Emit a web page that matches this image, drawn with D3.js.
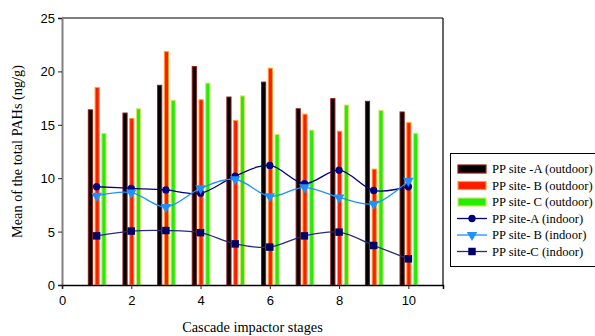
<!DOCTYPE html>
<html>
<head>
  <meta charset="utf-8">
  <style>
    html, body {
      margin: 0;
      padding: 0;
      background: #fff;
      width: 595px;
      height: 336px;
      overflow: hidden;
    }
    svg { display: block; }
    .tick-label { font-family: "Liberation Sans", Arial, sans-serif; font-size: 13px; fill: #000; }
    .title { font-family: "Liberation Serif", "Times New Roman", serif; font-size: 14.3px; fill: #000; }
    .legend text { font-family: "Liberation Serif", "Times New Roman", serif; font-size: 12.6px; fill: #000; }
  </style>
</head>
<body>
  <svg width="595" height="336"></svg>

  <script src="https://d3js.org/d3.v7.min.js"></script>
  <script>
    // data
    const stages = [1, 2, 3, 4, 5, 6, 7, 8, 9, 10];
    const outdoorA = [16.4, 16.1, 18.7, 20.45, 17.6, 19.0, 16.5, 17.45, 17.2, 16.2];
    const outdoorB = [18.5, 15.6, 21.85, 17.35, 15.4, 20.3, 16.0, 14.4, 10.85, 15.2];
    const outdoorC = [14.2, 16.5, 17.3, 18.9, 17.7, 14.1, 14.5, 16.85, 16.35, 14.2];
    const indoorA = [9.2, 9.05, 8.9, 8.6, 10.2, 11.2, 9.5, 10.75, 8.85, 9.2];
    const indoorB = [8.35, 8.65, 7.3, 9.05, 9.9, 8.3, 9.15, 8.2, 7.6, 9.75];
    const indoorC = [4.6, 5.05, 5.1, 4.9, 3.85, 3.55, 4.6, 4.95, 3.7, 2.45];
    const xTicks = [0, 2, 4, 6, 8, 10];
    const yTicks = [0, 5, 10, 15, 20, 25];

    const svg = d3.select("svg");
    const pLeft = 62, pRight = 443, pTop = 18, pBottom = 285;

    const x = d3.scaleLinear().domain([0, 11]).range([pLeft, pRight]);
    const y = d3.scaleLinear().domain([0, 25]).range([pBottom, pTop]);

    const barSeries = [
      { name: "PP site -A (outdoor)", values: outdoorA, fill: "#000000", stroke: "#8b1a1a", off: -0.18 },
      { name: "PP site- B (outdoor)", values: outdoorB, fill: "#ff1a00", stroke: "#ffa030", off: 0.015 },
      { name: "PP site- C (outdoor)", values: outdoorC, fill: "#22ee00", stroke: "#d8e070", off: 0.21 }
    ];
    const lineSeries = [
      { name: "PP site-A (indoor)", values: indoorA, line: "#000080", mark: "#000080", shape: "circle" },
      { name: "PP site- B (indoor)", values: indoorB, line: "#1e90ff", mark: "#1e90ff", shape: "triangle" },
      { name: "PP site-C (indoor)", values: indoorC, line: "#2a2a80", mark: "#000066", shape: "square" }
    ];

    const bw = x(0.12) - x(0);

    // bars
    barSeries.forEach(s => {
      svg.append("g")
        .selectAll("rect")
        .data(stages)
        .join("rect")
        .attr("x", (d, i) => x(d + s.off) - bw / 2)
        .attr("y", (d, i) => y(s.values[i]))
        .attr("width", bw)
        .attr("height", (d, i) => y(0) - y(s.values[i]))
        .attr("fill", s.fill)
        .attr("stroke", s.stroke)
        .attr("stroke-width", 1);
    });

    // lines
    const symbols = {
      circle: d3.symbol().type(d3.symbolCircle).size(42),
      triangle: d3.symbol().type(d3.symbolTriangle).size(48),
      square: d3.symbol().type(d3.symbolSquare).size(56)
    };

    lineSeries.forEach(s => {
      const line = d3.line()
        .x((d, i) => x(stages[i]))
        .y(d => y(d))
        .curve(d3.curveCatmullRom.alpha(0.5));
      svg.append("path")
        .datum(s.values)
        .attr("d", line)
        .attr("fill", "none")
        .attr("stroke", s.line)
        .attr("stroke-width", 1.3);
      svg.append("g")
        .selectAll("path")
        .data(s.values)
        .join("path")
        .attr("d", symbols[s.shape])
        .attr("transform", (d, i) => `translate(${x(stages[i])},${y(d)})` + (s.shape === "triangle" ? " rotate(180)" : ""))
        .attr("fill", s.mark);
    });

    // frame
    svg.append("line").attr("x1", pLeft).attr("x2", pRight).attr("y1", pTop).attr("y2", pTop)
      .attr("stroke", "#000").attr("stroke-width", 1.2);
    svg.append("line").attr("x1", pRight).attr("x2", pRight).attr("y1", pTop).attr("y2", pBottom)
      .attr("stroke", "#000").attr("stroke-width", 1.2);

    // y axis
    const yAxis = svg.append("g").attr("transform", `translate(${pLeft},0)`)
      .call(d3.axisLeft(y).tickValues(yTicks).tickSize(4).tickPadding(3));
    yAxis.select(".domain").attr("stroke", "#808080").attr("stroke-width", 2);
    yAxis.selectAll(".tick line").attr("stroke", "#222");
    yAxis.selectAll(".tick text").attr("class", "tick-label").attr("dy", "0.35em");

    // x axis
    const xAxis = svg.append("g").attr("transform", `translate(0,${pBottom})`)
      .call(d3.axisBottom(x).tickValues(xTicks).tickSize(4).tickPadding(7));
    xAxis.select(".domain").attr("stroke", "#000").attr("stroke-width", 1.5);
    xAxis.selectAll(".tick line").attr("stroke", "#222");
    xAxis.selectAll(".tick text").attr("class", "tick-label");

    // titles
    svg.append("text").attr("class", "title")
      .attr("x", (pLeft + pRight) / 2).attr("y", 332)
      .attr("text-anchor", "middle")
      .text("Cascade impactor stages");
    svg.append("text").attr("class", "title")
      .attr("transform", `translate(22,${(pTop + pBottom) / 2}) rotate(-90)`)
      .attr("text-anchor", "middle")
      .text("Mean of the total PAHs (ng/g)");

    // legend
    const legend = svg.append("g").attr("class", "legend");
    legend.append("rect")
      .attr("x", 450.5).attr("y", 153.5).attr("width", 160).attr("height", 113)
      .attr("fill", "#fff").attr("stroke", "#000").attr("stroke-width", 1);

    const rowY = i => 169 + i * 16.5;
    barSeries.forEach((s, i) => {
      legend.append("rect")
        .attr("x", 458).attr("y", rowY(i) - 4).attr("width", 28).attr("height", 8)
        .attr("fill", s.fill).attr("stroke", s.stroke).attr("stroke-width", 1.2);
      legend.append("text").attr("x", 492).attr("y", rowY(i)).attr("dy", "0.35em").text(s.name);
    });
    lineSeries.forEach((s, j) => {
      const i = j + 3;
      legend.append("line")
        .attr("x1", 457).attr("x2", 487).attr("y1", rowY(i)).attr("y2", rowY(i))
        .attr("stroke", s.line).attr("stroke-width", 1.3);
      legend.append("path")
        .attr("d", symbols[s.shape])
        .attr("transform", `translate(472,${rowY(i)})` + (s.shape === "triangle" ? " rotate(180)" : ""))
        .attr("fill", s.mark);
      legend.append("text").attr("x", 492).attr("y", rowY(i)).attr("dy", "0.35em").text(s.name);
    });
  </script>
</body>
</html>
